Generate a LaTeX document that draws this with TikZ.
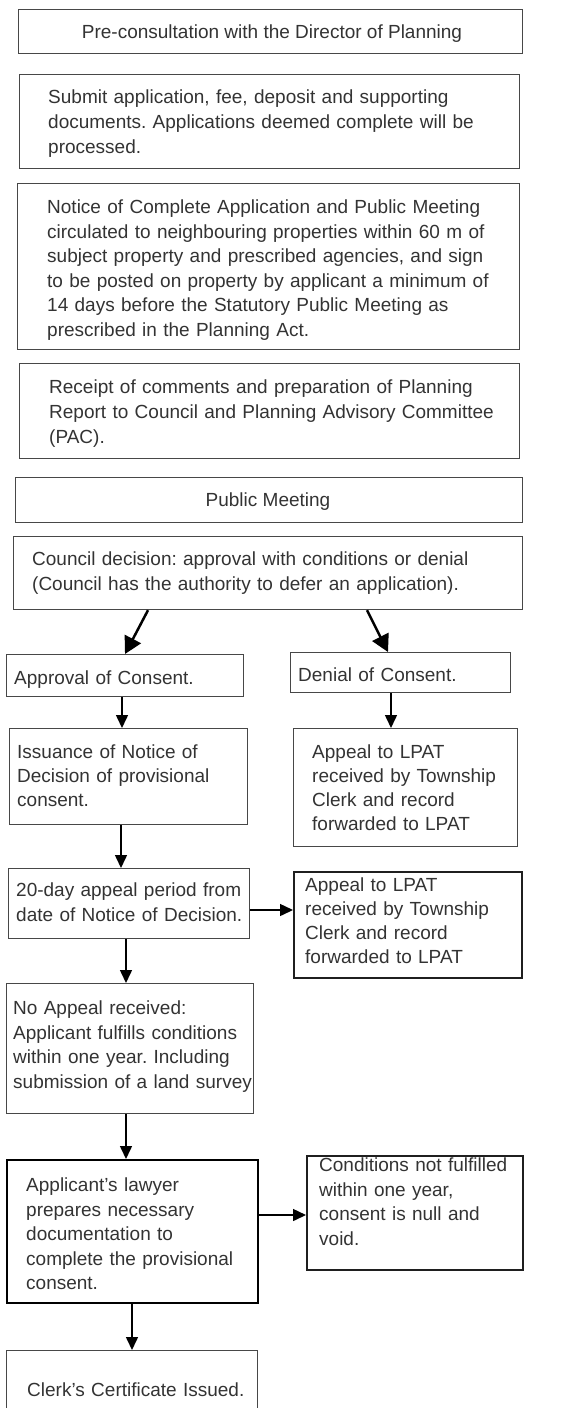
\documentclass[tikz,border=0pt]{standalone}
\usepackage{fontspec}
\setmainfont{Liberation Sans}
\usetikzlibrary{arrows.meta}
\frenchspacing
\begin{document}
\begin{tikzpicture}[x=1pt,y=-1pt,
  box/.style={draw=black!72, line width=1.2pt, inner sep=0pt, anchor=north west},
  darkbox/.style={box, draw=black!88, line width=1.5pt},
  thickbox/.style={box, draw=black, line width=2pt},
  txt/.style={inner sep=0pt, anchor=base west, align=left, text width=500pt, text=black!80, font=\fontsize{19}{#1}\selectfont\frenchspacing},
  txt/.default=24.5pt,
  ctxt/.style={inner sep=0pt, anchor=base, text=black!80, font=\fontsize{19}{24.5}\selectfont},
  arr/.style={draw=black, line width=1.5pt, -{Triangle[length=13pt,width=12pt]}},
  bigarr/.style={draw=black, line width=2.5pt, -{Triangle[length=17pt,width=18pt]}}
]
\useasboundingbox (0,0) rectangle (573,1408);
% boxes
\node[box, minimum width=504pt, minimum height=44pt] (b1) at (18,9) {};
\node[box, minimum width=500pt, minimum height=94pt] (b2) at (19,74) {};
\node[box, minimum width=502pt, minimum height=166pt] (b3) at (17,183) {};
\node[box, minimum width=500pt, minimum height=95pt] (b4) at (19,363) {};
\node[box, minimum width=507pt, minimum height=45pt] (b5) at (15,477) {};
\node[box, minimum width=509pt, minimum height=73pt] (b6) at (13,536) {};
\node[box, minimum width=237pt, minimum height=42pt] (b7) at (6,654) {};
\node[box, minimum width=220pt, minimum height=40pt] (b8) at (290,652) {};
\node[box, minimum width=238pt, minimum height=96pt] (b9) at (9,728) {};
\node[box, minimum width=224pt, minimum height=118pt] (b10) at (293,728) {};
\node[box, minimum width=241pt, minimum height=70pt] (b11) at (8,868) {};
\node[darkbox, minimum width=228pt, minimum height=106pt] (b12) at (293,871) {};
\node[box, minimum width=247pt, minimum height=130pt] (b13) at (6,983) {};
\node[thickbox, minimum width=251pt, minimum height=143pt] (b14) at (6,1159) {};
\node[darkbox, minimum width=216pt, minimum height=114pt] (b15) at (306,1155) {};
\node[box, minimum width=251pt, minimum height=90pt] (b16) at (6,1350) {};
% texts
\node[ctxt] (t1) at (272,38.5) {Pre-consultation with the Director of Planning};
\node[txt=25pt] (t2) at (48,103.5) {Submit application, fee, deposit and supporting\\documents. Applications deemed complete will be\\processed.};
\node[txt=24.6pt] (t3) at (47,213.5) {Notice of Complete Application and Public Meeting\\circulated to neighbouring properties within 60 m of\\subject property and prescribed agencies, and sign\\to be posted on property by applicant a minimum of\\14 days before the Statutory Public Meeting as\\prescribed in the Planning Act.};
\node[txt=25pt] (t4) at (49,393.5) {Receipt of comments and preparation of Planning\\Report to Council and Planning Advisory Committee\\(PAC).};
\node[ctxt] (t5) at (268,506.5) {Public Meeting};
\node[txt=25pt] (t6) at (32,565.5) {Council decision: approval with conditions or denial\\(Council has the authority to defer an application).};
\node[txt] (t7) at (14,684.5) {Approval of Consent.};
\node[txt] (t8) at (298,681.5) {Denial of Consent.};
\node[txt=24pt] (t9) at (17,758.5) {Issuance of Notice of\\Decision of provisional\\consent.};
\node[txt=24pt] (t10) at (312,758.5) {Appeal to LPAT\\received by Township\\Clerk and record\\forwarded to LPAT};
\node[txt=25pt] (t11) at (16,896.5) {20-day appeal period from\\date of Notice of Decision.};
\node[txt=24pt] (t12) at (305,891.5) {Appeal to LPAT\\received by Township\\Clerk and record\\forwarded to LPAT};
\node[txt] (t13) at (13,1014.5) {No Appeal received:\\Applicant fulfills conditions\\within one year. Including\\submission of a land survey};
\node[txt] (t14) at (26,1191.5) {Applicant’s lawyer\\prepares necessary\\documentation to\\complete the provisional\\consent.};
\node[txt] (t15) at (319,1171.5) {Conditions not fulfilled\\within one year,\\consent is null and\\void.};
\node[txt] (t16) at (27,1396.5) {Clerk’s Certificate Issued.};
% connectors
\draw[bigarr] (b6.south -| 148,0) -- (b7.north -| 125,0);
\draw[bigarr] (b6.south -| 367,0) -- (b8.north -| 388,0);
\draw[arr] (b7.south -| 122,0) -- (b9.north -| 122,0);
\draw[arr] (b8.south -| 391,0) -- (b10.north -| 391,0);
\draw[arr] (b9.south -| 121,0) -- (b11.north -| 121,0);
\draw[arr] (b11.east |- 0,910) -- (b12.west |- 0,910);
\draw[arr] (b11.south -| 126,0) -- (b13.north -| 126,0);
\draw[arr] (b13.south -| 126,0) -- (b14.north -| 126,0);
\draw[arr] (b14.east |- 0,1215) -- (b15.west |- 0,1215);
\draw[arr] (b14.south -| 132,0) -- (b16.north -| 132,0);
\end{tikzpicture}
\end{document}
